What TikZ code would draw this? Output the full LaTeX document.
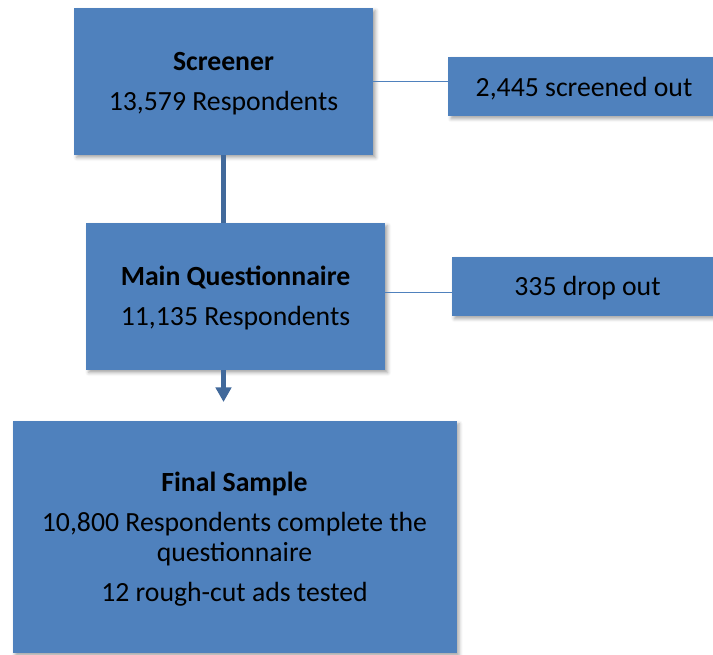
\documentclass[tikz,border=0pt]{standalone}
\usepackage{fontspec}
\setmainfont{Carlito}
\usetikzlibrary{arrows.meta,shadows.blur}
\definecolor{boxBlue}{RGB}{79,129,189}
\definecolor{trunkBlue}{RGB}{65,105,155}
\newcommand{\stageTitle}[1]{\rule{0pt}{17.3pt}\textbf{#1}}

\begin{document}
\begin{tikzpicture}[x=0.75pt,y=-0.75pt,
  stage/.style={fill=boxBlue,inner sep=0pt,align=center,
    minimum width=224.25pt,minimum height=110.25pt,
    font=\fontsize{20.8pt}{22.5pt}\selectfont,
    blur shadow={shadow xshift=2pt,shadow yshift=-2pt,
      shadow blur radius=2.5pt,shadow opacity=35}},
  dropbox/.style={stage,minimum width=203.5pt,minimum height=44.5pt},
  trunk/.style={draw=trunkBlue,line width=3.75pt},
  branch/.style={draw=boxBlue,line width=1.1pt}]
\useasboundingbox (0,0) rectangle (713,654);
\clip (0,0) rectangle (713,654);

% main stages
\node[stage] (screener) at (223.5,81.5)
  {\stageTitle{Screener}\\[7.5pt]13,579 Respondents};
\node[stage] (mainq) at (235.5,296.5)
  {\stageTitle{Main Questionnaire}\\[7.5pt]11,135 Respondents};
\node[stage,minimum width=333pt,minimum height=174pt] (final) at (234.5,537)
  {\stageTitle{Final Sample}\\[7.5pt]10,800 Respondents complete the\\
   questionnaire\\[7.5pt]12 rough-cut ads tested};

% side boxes
\node[dropbox] (screenedout) at (584,86.5) {\rule{0pt}{17.3pt}2,445 screened out};
\node[dropbox] (dropout) at (587.5,286.5) {\rule{0pt}{17.3pt}335 drop out};

% connectors
\coordinate (arrowend) at (223.5,402);
\draw[trunk] (screener.south) -- (screener.south |- mainq.north);
\draw[trunk,-{Triangle[width=11.5pt,length=11pt]}]
  (mainq.south -| screener.south) -- (arrowend);
\draw[branch] (screener.east) -- (screener.east -| screenedout.west);
\draw[branch] ([yshift=3pt]mainq.east) -- ([yshift=3pt]mainq.east -| dropout.west);
\end{tikzpicture}
\end{document}
